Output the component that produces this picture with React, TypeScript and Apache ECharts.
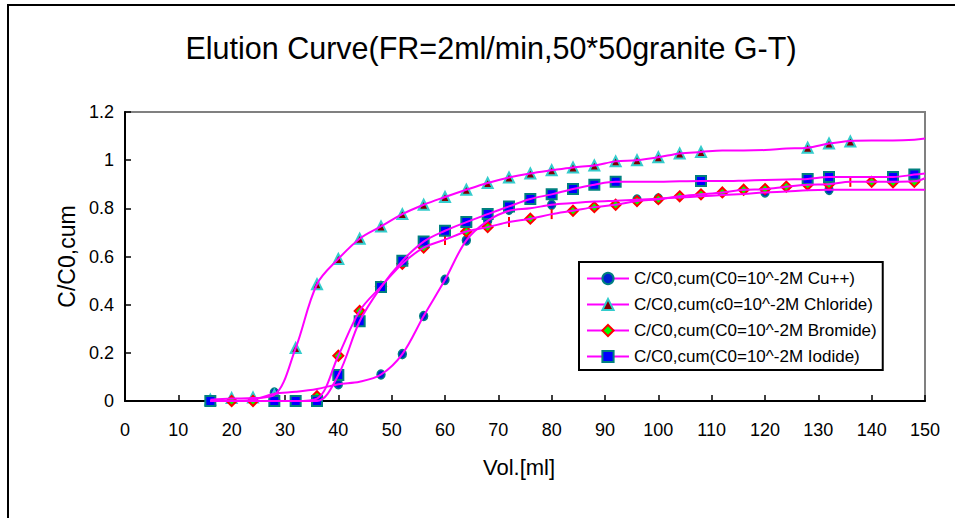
import React, { useEffect, useRef } from "react";
import * as echarts from "echarts";

// ---- Data ----
const titleText = "Elution Curve(FR=2ml/min,50*50granite G-T)";
const xAxisName = "Vol.[ml]";
const yAxisName = "C/C0,cum";

const seriesNames = [
  "C/C0,cum(C0=10^-2M Cu++)",
  "C/C0,cum(c0=10^-2M Chloride)",
  "C/C0,cum(C0=10^-2M Bromide)",
  "C/C0,cum(C0=10^-2M Iodide)",
];

// Smoothed curve points (volume in ml)
const lineVols = [16, 20, 24, 28, 32, 36, 40, 44, 48, 52, 56, 60, 64, 68, 72, 76, 80, 84, 88, 92, 96, 100, 104, 108, 112, 116, 120, 124, 128, 132, 136, 140, 144, 148, 150];
const cuLine = [0, 0, 0.005, 0.03, 0.038, 0.05, 0.07, 0.08, 0.11, 0.195, 0.353, 0.503, 0.667, 0.748, 0.79, 0.8, 0.815, 0.822, 0.828, 0.832, 0.836, 0.84, 0.845, 0.85, 0.855, 0.86, 0.866, 0.87, 0.875, 0.877, 0.877, 0.877, 0.877, 0.877, 0.877];
const chlorideLine = [0.005, 0.01, 0.012, 0.025, 0.22, 0.485, 0.59, 0.674, 0.725, 0.776, 0.815, 0.847, 0.877, 0.905, 0.928, 0.945, 0.958, 0.97, 0.978, 0.995, 1.0, 1.012, 1.028, 1.034, 1.04, 1.04, 1.042, 1.048, 1.052, 1.069, 1.08, 1.082, 1.082, 1.085, 1.09];
const bromideLine = [0, 0, 0, 0, 0, 0.01, 0.188, 0.374, 0.475, 0.57, 0.637, 0.67, 0.704, 0.722, 0.743, 0.757, 0.776, 0.79, 0.805, 0.815, 0.83, 0.838, 0.85, 0.858, 0.866, 0.877, 0.88, 0.89, 0.898, 0.9, 0.91, 0.91, 0.91, 0.912, 0.925];
const iodideLine = [0, 0, 0, 0, 0, 0, 0.108, 0.331, 0.473, 0.582, 0.662, 0.707, 0.743, 0.776, 0.808, 0.839, 0.858, 0.88, 0.898, 0.91, 0.91, 0.91, 0.912, 0.913, 0.913, 0.915, 0.918, 0.92, 0.922, 0.93, 0.93, 0.93, 0.93, 0.94, 0.945];

// Measured points (markers)
const cuVols = [28, 40, 48, 52, 56, 60, 64, 68, 72, 80, 96, 100, 120, 132];
const cuVals = [0.035, 0.07, 0.11, 0.195, 0.353, 0.503, 0.667, 0.748, 0.794, 0.815, 0.836, 0.84, 0.866, 0.877];

const chlorideVols = [16, 20, 24, 28, 32, 36, 40, 44, 48, 52, 56, 60, 64, 68, 72, 76, 80, 84, 88, 92, 96, 100, 104, 108, 128, 132, 136];
const chlorideVals = [0.005, 0.012, 0.015, 0.025, 0.22, 0.485, 0.59, 0.674, 0.725, 0.776, 0.815, 0.847, 0.877, 0.905, 0.928, 0.945, 0.958, 0.97, 0.978, 0.995, 1.0, 1.012, 1.028, 1.034, 1.052, 1.069, 1.078];

const bromideVols = [20, 24, 36, 40, 44, 48, 52, 56, 60, 64, 68, 72, 76, 80, 84, 88, 92, 96, 100, 104, 108, 112, 116, 120, 124, 128, 132, 136, 140, 144, 148];
const bromideVals = [0, 0, 0.02, 0.188, 0.374, 0.475, 0.57, 0.637, 0.669, 0.704, 0.722, 0.743, 0.757, 0.776, 0.79, 0.805, 0.815, 0.83, 0.838, 0.85, 0.858, 0.866, 0.877, 0.88, 0.89, 0.898, 0.9, 0.91, 0.91, 0.908, 0.91];
// Bromide points whose marker shows only as a thin red bar in the reference
const bromideBarVols = [60, 72, 80, 136];

const iodideVols = [16, 28, 32, 36, 40, 44, 48, 52, 56, 60, 64, 68, 72, 76, 80, 84, 88, 92, 108, 128, 132, 144, 148];
const iodideVals = [0, 0, 0, 0, 0.108, 0.331, 0.473, 0.582, 0.662, 0.707, 0.743, 0.776, 0.808, 0.839, 0.858, 0.88, 0.898, 0.91, 0.913, 0.922, 0.93, 0.93, 0.94];

const xTicks = { min: 0, max: 150, interval: 10 };
const yTicks = { min: 0, max: 1.2, interval: 0.2 };

// ---- Styles ----
const FONT = '"Liberation Sans", Arial, Helvetica, sans-serif';
const MAGENTA = "#FF00FF";

const markerStyles = [
  { symbol: "circle", size: [8, 9], fill: "#0020D0", border: "#008080", bw: 1.5 },
  { symbol: "triangle", size: 10, fill: "#800000", border: "#33CCCC", bw: 2 },
  { symbol: "diamond", size: 10, fill: "#00FF00", border: "#FF0000", bw: 2 },
  { symbol: "rect", size: 10, fill: "#0000FF", border: "#008080", bw: 2 },
];

export default function App() {
  const ref = useRef<HTMLDivElement>(null);

  useEffect(() => {
    if (!ref.current) return;
    const chart = echarts.init(ref.current, null, { renderer: "svg" });

    const lines = [cuLine, chlorideLine, bromideLine, iodideLine];
    const markerVols = [cuVols, chlorideVols, bromideVols, iodideVols];
    const markerVals = [cuVals, chlorideVals, bromideVals, iodideVals];

    const series: any[] = [];
    seriesNames.forEach((name, i) => {
      const ms = markerStyles[i];
      series.push({
        name,
        type: "line",
        smooth: 0.35,
        showSymbol: false,
        symbol: ms.symbol,
        symbolSize: ms.size,
        data: lineVols.map((v, k) => [v, lines[i][k]]),
        lineStyle: { color: MAGENTA, width: 2 },
        itemStyle: { color: ms.fill, borderColor: ms.border, borderWidth: ms.bw },
        silent: true,
      });
      series.push({
        name: name + " (points)",
        type: "scatter",
        symbol: ms.symbol,
        symbolSize: ms.size,
        data: markerVols[i].map((v, k) => {
          const val = [v, markerVals[i][k]];
          if (i === 2 && bromideBarVols.includes(v)) {
            return {
              value: val,
              symbol: "rect",
              symbolSize: [2, 10],
              itemStyle: { color: "#FF0000", borderWidth: 0, opacity: 1 },
            };
          }
          return val;
        }),
        itemStyle: { color: ms.fill, borderColor: ms.border, borderWidth: ms.bw, opacity: 1 },
        silent: true,
      });
    });

    const option: any = {
      animation: false,
      textStyle: { fontFamily: FONT },
      graphic: [
        {
          type: "rect",
          silent: true,
          z: -10,
          shape: { x: 8, y: 5, width: 1000, height: 600 },
          style: { fill: "none", stroke: "#000", lineWidth: 2 },
        },
        {
          type: "text",
          x: 491,
          y: 48,
          silent: true,
          style: {
            text: titleText,
            fontSize: 30.5,
            fontFamily: FONT,
            fill: "#000",
            align: "center",
            verticalAlign: "middle",
          },
        },
      ],
      grid: {
        left: 125,
        right: 30,
        top: 112,
        bottom: 117,
        show: true,
        borderColor: "#808080",
        borderWidth: 2,
        backgroundColor: "transparent",
      },
      legend: {
        data: seriesNames,
        orient: "vertical",
        left: 579,
        top: 262,
        padding: [8, 6, 5, 7],
        itemGap: 9,
        itemWidth: 42,
        itemHeight: 14,
        borderColor: "#000",
        borderWidth: 2,
        backgroundColor: "#fff",
        selectedMode: false,
        textStyle: { fontSize: 17, color: "#000", lineHeight: 16, fontFamily: FONT },
      },
      xAxis: {
        type: "value",
        min: xTicks.min,
        max: xTicks.max,
        interval: xTicks.interval,
        name: xAxisName,
        nameLocation: "middle",
        nameGap: 55,
        nameTextStyle: { color: "#000", fontSize: 22, padding: [0, 12, 0, 0], fontFamily: FONT },
        axisLine: { show: true, onZero: false, lineStyle: { color: "#000", width: 2 } },
        axisTick: { show: true, inside: true, length: 6, lineStyle: { color: "#000", width: 1.5 } },
        axisLabel: { color: "#000", fontSize: 18, margin: 20, fontFamily: FONT },
        splitLine: { show: false },
      },
      yAxis: {
        type: "value",
        min: yTicks.min,
        max: yTicks.max,
        interval: yTicks.interval,
        name: yAxisName,
        nameLocation: "middle",
        nameGap: 45,
        nameTextStyle: { color: "#000", fontSize: 23, fontFamily: FONT },
        axisLine: { show: true, onZero: false, lineStyle: { color: "#000", width: 2 } },
        axisTick: { show: true, inside: true, length: 6, lineStyle: { color: "#000", width: 1.5 } },
        axisLabel: { color: "#000", fontSize: 18, margin: 11, fontFamily: FONT },
        splitLine: { show: false },
      },
      series,
    };

    chart.setOption(option);
    return () => chart.dispose();
  }, []);

  return (
    <div
      ref={ref}
      style={{ position: "absolute", left: 0, top: 0, width: 955, height: 518, background: "#fff" }}
    />
  );
}
